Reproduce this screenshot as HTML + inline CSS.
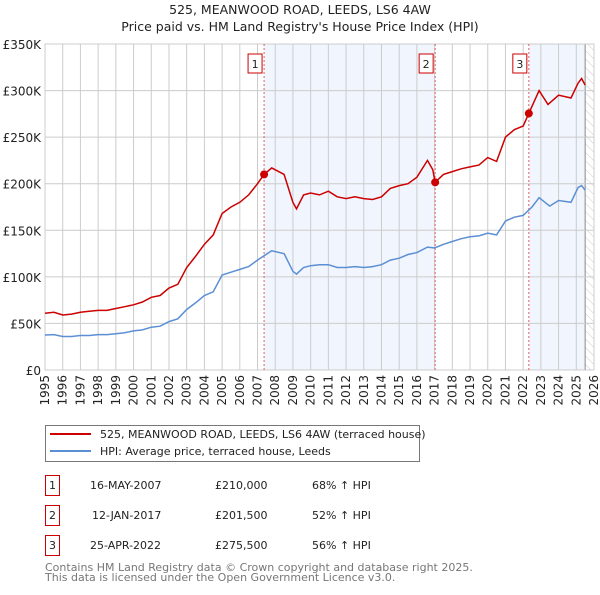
<!DOCTYPE html>
<html><head><meta charset="utf-8"><style>
body{margin:0;background:#fff;width:600px;height:590px;overflow:hidden;font-family:"Liberation Sans","DejaVu Sans",sans-serif}
svg text{font-family:"DejaVu Sans","Liberation Sans",sans-serif}
</style></head><body>
<svg id="c" width="600" height="590" xmlns="http://www.w3.org/2000/svg"></svg>
<script>
const hpiYears=[1995,1995.5,1996,1996.5,1997,1997.5,1998,1998.5,1999,1999.5,2000,2000.5,2001,2001.5,2002,2002.5,2003,2003.5,2004,2004.5,2005,2005.5,2006,2006.5,2007,2007.4,2007.8,2008.5,2009,2009.2,2009.6,2010,2010.5,2011,2011.5,2012,2012.5,2013,2013.5,2014,2014.5,2015,2015.5,2016,2016.6,2017,2017.5,2018,2018.5,2019,2019.5,2020,2020.5,2021,2021.5,2022,2022.5,2022.9,2023.5,2024,2024.7,2025.1,2025.3,2025.5];
const hpiValues=[37.6,38,36,36,37,37,38,38,39,40,42,43,46,47,52,55,65,72,80,84,102,105,108,111,118,123,128,125,106,103,110,112,113,113,110,110,111,110,111,113,118,120,124,126,132,131,135,138,141,143,144,147,145,160,164,166,175,185,176,182,180,196,198,193];
const priceYears=[1995,1995.5,1996,1996.5,1997,1997.5,1998,1998.5,1999,1999.5,2000,2000.5,2001,2001.5,2002,2002.5,2003,2003.5,2004,2004.5,2005,2005.5,2006,2006.5,2007,2007.37,2007.8,2008.5,2009,2009.2,2009.6,2010,2010.5,2011,2011.5,2012,2012.5,2013,2013.5,2014,2014.5,2015,2015.5,2016,2016.6,2016.9,2017.03,2017.5,2018,2018.5,2019,2019.5,2020,2020.5,2021,2021.5,2022,2022.32,2022.9,2023.4,2024,2024.7,2025.1,2025.3,2025.5];
const priceValues=[61,62,59,60,62,63,64,64,66,68,70,73,78,80,88,92,110,122,135,145,168,175,180,188,200,210,217,210,180,173,188,190,188,192,186,184,186,184,183,186,195,198,200,207,225,215,201.5,210,213,216,218,220,228,224,250,258,262,275.5,300,285,295,292,308,313,306];
const saleYears=[2007.37,2017.03,2022.32];
const saleValues=[210,201.5,275.5];
const saleLabels=["1","2","3"];
const yTicks=[0,50,100,150,200,250,300,350];
const yTickLabels=["£0","£50K","£100K","£150K","£200K","£250K","£300K","£350K"];
const xTicks=[];for(let y=1995;y<=2026;y++)xTicks.push(y);

const NS="http://www.w3.org/2000/svg";const svg=document.getElementById('c');
const L=45,R=594,T=44,B=370;
const X=y=>L+(y-1995)*(R-L)/31;
const Y=v=>B-v*(B-T)/350;
function el(t,a,p){const e=document.createElementNS(NS,t);for(const k in a)e.setAttribute(k,a[k]);(p||svg).appendChild(e);return e;}
function tx(x,y,s,a,p){const e=el('text',Object.assign({x:x,y:y},a),p);e.textContent=s;return e;}
// title
let t=tx(300,14,"525, MEANWOOD ROAD, LEEDS, LS6 4AW",{'text-anchor':'middle','font-size':'12.5',fill:'#222'});

t=tx(300,31,"Price paid vs. HM Land Registry's House Price Index (HPI)",{'text-anchor':'middle','font-size':'12.5',fill:'#222'});

// shading
let s=el('rect',{x:X(saleYears[0]),y:T,width:X(saleYears[1])-X(saleYears[0]),height:B-T,fill:'#eef3fc',opacity:0.8});

s=el('rect',{x:X(saleYears[2]),y:T,width:X(2025.5)-X(saleYears[2]),height:B-T,fill:'#eef3fc',opacity:0.8});

// hatch
const defs=el('defs',{});const pat=el('pattern',{id:'h',width:6,height:6,patternUnits:'userSpaceOnUse',patternTransform:'rotate(-45)'},defs);
el('line',{x1:0,y1:0,x2:0,y2:6,stroke:'#ccc','stroke-width':1},pat);
s=el('rect',{x:X(2025.5),y:T,width:R-X(2025.5),height:B-T,fill:'url(#h)'});

el('line',{x1:X(2025.5),y1:T,x2:X(2025.5),y2:B,stroke:'#888','stroke-width':1});
// grid
yTicks.forEach((v,i)=>{el('line',{x1:L,x2:R,y1:Y(v),y2:Y(v),stroke:'#ccc','stroke-width':1});
 const e=tx(L-4,Y(v)+5,yTickLabels[i],{'text-anchor':'end','font-size':'12',fill:'#222'});
 });
xTicks.forEach(y=>{el('line',{x1:X(y),x2:X(y),y1:T,y2:B,stroke:'#ccc','stroke-width':1});
 const e=tx(0,0,String(y),{'font-size':'12',fill:'#222','text-anchor':'end',transform:`translate(${X(y)+4},${B+5}) rotate(-90)`});
 });
el('rect',{x:L,y:T,width:R-L,height:B-T,fill:'none',stroke:'#ccc'});
// sale lines
saleYears.forEach((y,i)=>{el('line',{x1:X(y),x2:X(y),y1:T,y2:B,stroke:'#e06060','stroke-width':1,'stroke-dasharray':'2,2'});
 const g=el('g',{});
 el('rect',{x:X(y)-16,y:54,width:14,height:19,fill:'#fff',stroke:'#c00'},g);
 tx(X(y)-9,68,saleLabels[i],{'text-anchor':'middle','font-size':'11',fill:'#222'},g);});
function line(xs,vs,c,name){const d=xs.map((x,i)=>(i?'L':'M')+X(x).toFixed(1)+','+Y(vs[i]).toFixed(1)).join('');
 const p=el('path',{d:d,fill:'none',stroke:c,'stroke-width':1.5});}
line(hpiYears,hpiValues,'#5b8fd4','hpi-line');
line(priceYears,priceValues,'#cc0000','price-line');
saleYears.forEach((y,i)=>{const c=el('circle',{cx:X(y),cy:Y(saleValues[i]),r:4,fill:'#cc0000'});
 });
// legend
const lg=el('g',{});
el('rect',{x:45.5,y:425.5,width:374,height:36,fill:'#fff',stroke:'#777'},lg);
el('line',{x1:50,x2:91,y1:434,y2:434,stroke:'#cc0000','stroke-width':2},lg);
el('line',{x1:50,x2:91,y1:451,y2:451,stroke:'#5b8fd4','stroke-width':2},lg);
tx(100,438,"525, MEANWOOD ROAD, LEEDS, LS6 4AW (terraced house)",{'font-size':'11',fill:'#222'},lg);
tx(100,455,"HPI: Average price, terraced house, Leeds",{'font-size':'11',fill:'#222'},lg);
// table
const dates=["16-MAY-2007","12-JAN-2017","25-APR-2022"],prices=["£210,000","£201,500","£275,500"],pct=["68% ↑ HPI","52% ↑ HPI","56% ↑ HPI"];
[0,1,2].forEach(i=>{const y=475+i*30;const g=el('g',{});
 el('rect',{x:45.5,y:y+0.5,width:14,height:20,fill:'#fff',stroke:'#c00'},g);
 tx(52.5,y+14,saleLabels[i],{'text-anchor':'middle','font-size':'11',fill:'#222'},g);
 tx(90+(i==1?2:0),y+14,dates[i],{'font-size':'11',fill:'#222'},g);
 tx(215,y+14,prices[i],{'font-size':'11',fill:'#222'},g);
 tx(312,y+14,pct[i],{'font-size':'11',fill:'#222'},g);});
t=tx(45,571,"Contains HM Land Registry data © Crown copyright and database right 2025.",{'font-size':'11',fill:'#777'});

t=tx(45,581,"This data is licensed under the Open Government Licence v3.0.",{'font-size':'11',fill:'#777'});

</script></body></html>
